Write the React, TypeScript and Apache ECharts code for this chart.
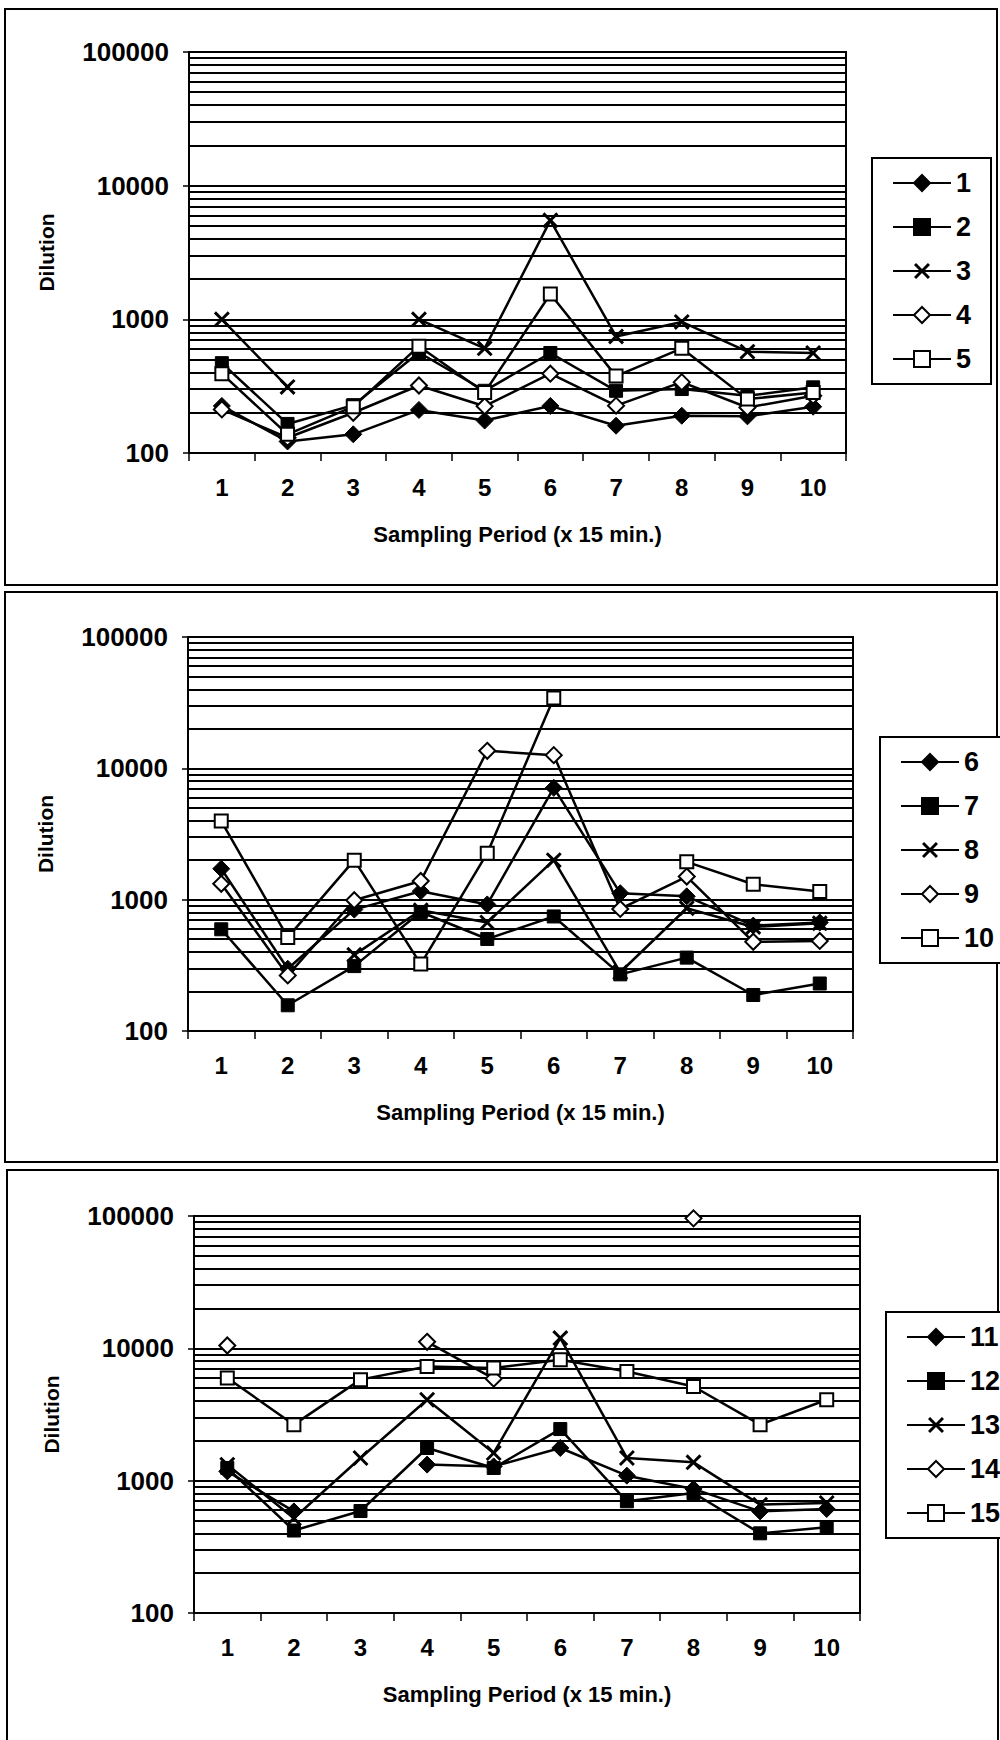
import React, { useEffect, useRef } from "react";
import * as echarts from "echarts";

// ---------- data ----------
const periods = ["1", "2", "3", "4", "5", "6", "7", "8", "9", "10"];
const yTickValues = [100, 1000, 10000, 100000];
const minorGridValues = [
  200, 300, 400, 500, 600, 700, 800, 900,
  2000, 3000, 4000, 5000, 6000, 7000, 8000, 9000,
  20000, 30000, 40000, 50000, 60000, 70000, 80000, 90000,
];

const panel1Names = ["1", "2", "3", "4", "5"];
const s1 = [225, 122, 138, 210, 175, 225, 160, 190, 188, 222];
const s2 = [470, 165, 228, 565, 292, 560, 292, 301, 268, 310];
const s3 = [1000, 312, null, 1000, 607, 5500, 745, 956, 573, 560];
const s4 = [212, 130, 200, 320, 224, 392, 226, 339, 219, 268];
const s5 = [392, 138, 222, 630, 284, 1546, 376, 607, 253, 284];

const panel2Names = ["6", "7", "8", "9", "10"];
const s6 = [1720, 298, 840, 1160, 920, 7100, 1120, 1060, 635, 670];
const s7 = [595, 157, 312, 806, 502, 745, 270, 362, 188, 230];
const s8 = [null, null, 380, 830, 670, 2000, 280, 860, 620, 660];
const s9 = [1320, 265, 990, 1388, 13600, 12600, 850, 1500, 478, 485];
const s10 = [3970, 516, 2000, 323, 2260, 34300, null, 1940, 1310, 1155];

const panel3Names = ["11", "12", "13", "14", "15"];
const s11 = [1175, 586, null, 1322, 1282, 1766, 1091, 866, 586, 611];
const s12 = [1247, 420, 590, 1766, 1247, 2455, 698, 807, 400, 445];
const s13 = [1321, 520, 1484, 4090, 1619, 11960, 1484, 1375, 659, 678];
const s14 = [10500, null, null, 11200, 5900, null, null, 96000, null, null];
const s15 = [5970, 2650, 5800, 7300, 7100, 8200, 6690, 5150, 2650, 4090];

const xTitle = "Sampling Period (x 15 min.)";
const yTitle = "Dilution";

// ---------- styles ----------
const FONT = "'Liberation Sans', Arial, Helvetica, sans-serif";
const XPATH =
  "path://M0,1.3 L1.3,0 L5,3.7 L8.7,0 L10,1.3 L6.3,5 L10,8.7 L8.7,10 L5,6.3 L1.3,10 L0,8.7 L3.7,5 Z";

const markerStyles: any[] = [
  { symbol: "diamond", symbolSize: 17, itemStyle: { color: "#000", borderColor: "#000", borderWidth: 1 } },
  { symbol: "rect", symbolSize: 13, itemStyle: { color: "#000", borderColor: "#000", borderWidth: 1 } },
  { symbol: XPATH, symbolSize: 16, itemStyle: { color: "#000", borderWidth: 0 } },
  { symbol: "diamond", symbolSize: 16, itemStyle: { color: "#fff", borderColor: "#000", borderWidth: 2 } },
  { symbol: "rect", symbolSize: 13, itemStyle: { color: "#fff", borderColor: "#000", borderWidth: 2 } },
];

const panels = [
  { names: panel1Names, series: [s1, s2, s3, s4, s5] },
  { names: panel2Names, series: [s6, s7, s8, s9, s10] },
  { names: panel3Names, series: [s11, s12, s13, s14, s15] },
];

const gridBoxes = [
  { left: 189, top: 52, width: 657, height: 401 },
  { left: 188, top: 637, width: 665, height: 394 },
  { left: 194, top: 1216, width: 666, height: 397 },
];
const legendPos = [
  { left: 872, top: 158 },
  { left: 880, top: 737 },
  { left: 886, top: 1312 },
];
const panelRects = [
  { x: 5, y: 9, width: 992, height: 576 },
  { x: 5, y: 592, width: 992, height: 570 },
  { x: 7, y: 1170, width: 991, height: 590 },
];

function buildOption() {
  const grid: any[] = [];
  const xAxis: any[] = [];
  const yAxis: any[] = [];
  const legend: any[] = [];
  const series: any[] = [];

  panels.forEach((p, i) => {
    grid.push({
      ...gridBoxes[i],
      show: true,
      borderColor: "#000",
      borderWidth: 2,
      backgroundColor: "transparent",
    });
    xAxis.push({
      type: "category",
      gridIndex: i,
      data: periods,
      boundaryGap: true,
      axisLine: { lineStyle: { color: "#000", width: 2 } },
      axisTick: { show: true, length: 8, interval: 0, lineStyle: { color: "#000", width: 1.5 } },
      axisLabel: { fontSize: 24, fontWeight: "bold", color: "#000", margin: 22, fontFamily: FONT, interval: 0 },
      splitLine: { show: false },
      name: xTitle,
      nameLocation: "middle",
      nameGap: 70,
      nameTextStyle: { fontSize: 22, fontWeight: "bold", color: "#000", fontFamily: FONT },
    });
    yAxis.push({
      type: "log",
      logBase: 10,
      min: yTickValues[0],
      max: yTickValues[yTickValues.length - 1],
      gridIndex: i,
      axisLine: { show: true, lineStyle: { color: "#000", width: 2 } },
      axisTick: { show: true, length: 6, lineStyle: { color: "#000", width: 1.5 } },
      axisLabel: {
        fontSize: 26,
        fontWeight: "bold",
        color: "#000",
        margin: 20,
        fontFamily: FONT,
        formatter: (v: number) => String(Math.round(v)),
      },
      splitLine: { show: true, lineStyle: { color: "#000", width: 2.2 } },
      name: yTitle,
      nameLocation: "middle",
      nameGap: 132,
      nameTextStyle: { fontSize: 21, fontWeight: "bold", color: "#000", fontFamily: FONT },
    });
    legend.push({
      orient: "vertical",
      ...legendPos[i],
      data: p.names,
      itemWidth: 58,
      itemHeight: 20,
      itemGap: 14,
      padding: [10, 20, 10, 20],
      borderColor: "#000",
      borderWidth: 2,
      borderRadius: 0,
      backgroundColor: "#fff",
      selectedMode: false,
      textStyle: { fontSize: 27, fontWeight: "bold", color: "#000", fontFamily: FONT, lineHeight: 30 },
    });
    // minor horizontal grid lines drawn through the log axis
    series.push({
      type: "line",
      name: "grid" + i,
      xAxisIndex: i,
      yAxisIndex: i,
      data: periods.map(() => null),
      silent: true,
      z: 1,
      showSymbol: false,
      markLine: {
        silent: true,
        symbol: ["none", "none"],
        label: { show: false },
        lineStyle: { color: "#000", width: 2.2, type: "solid" },
        emphasis: { disabled: true },
        data: minorGridValues.map((v) => ({ yAxis: v })),
      },
    });
    p.series.forEach((vals, k) => {
      const m = markerStyles[k];
      series.push({
        type: "line",
        name: p.names[k],
        xAxisIndex: i,
        yAxisIndex: i,
        data: vals,
        symbol: m.symbol,
        symbolSize: m.symbolSize,
        showSymbol: true,
        showAllSymbol: true,
        itemStyle: m.itemStyle,
        lineStyle: { color: "#000", width: 2.5 },
        connectNulls: false,
        z: 3 + k,
      });
    });
  });

  return {
    animation: false,
    backgroundColor: "#fff",
    textStyle: { fontFamily: FONT },
    grid,
    xAxis,
    yAxis,
    legend,
    series,
    graphic: panelRects.map((r) => ({
      type: "rect",
      shape: r,
      silent: true,
      z: -10,
      style: { fill: "none", stroke: "#000", lineWidth: 2 },
    })),
  };
}

export default function App() {
  const ref = useRef<HTMLDivElement | null>(null);
  useEffect(() => {
    if (!ref.current) return;
    const chart = echarts.init(ref.current, undefined, { renderer: "svg" });
    chart.setOption(buildOption() as any);
    return () => chart.dispose();
  }, []);
  return (
    <div
      ref={ref}
      style={{ position: "absolute", left: 0, top: 0, width: 1000, height: 1740, background: "#fff" }}
    />
  );
}
